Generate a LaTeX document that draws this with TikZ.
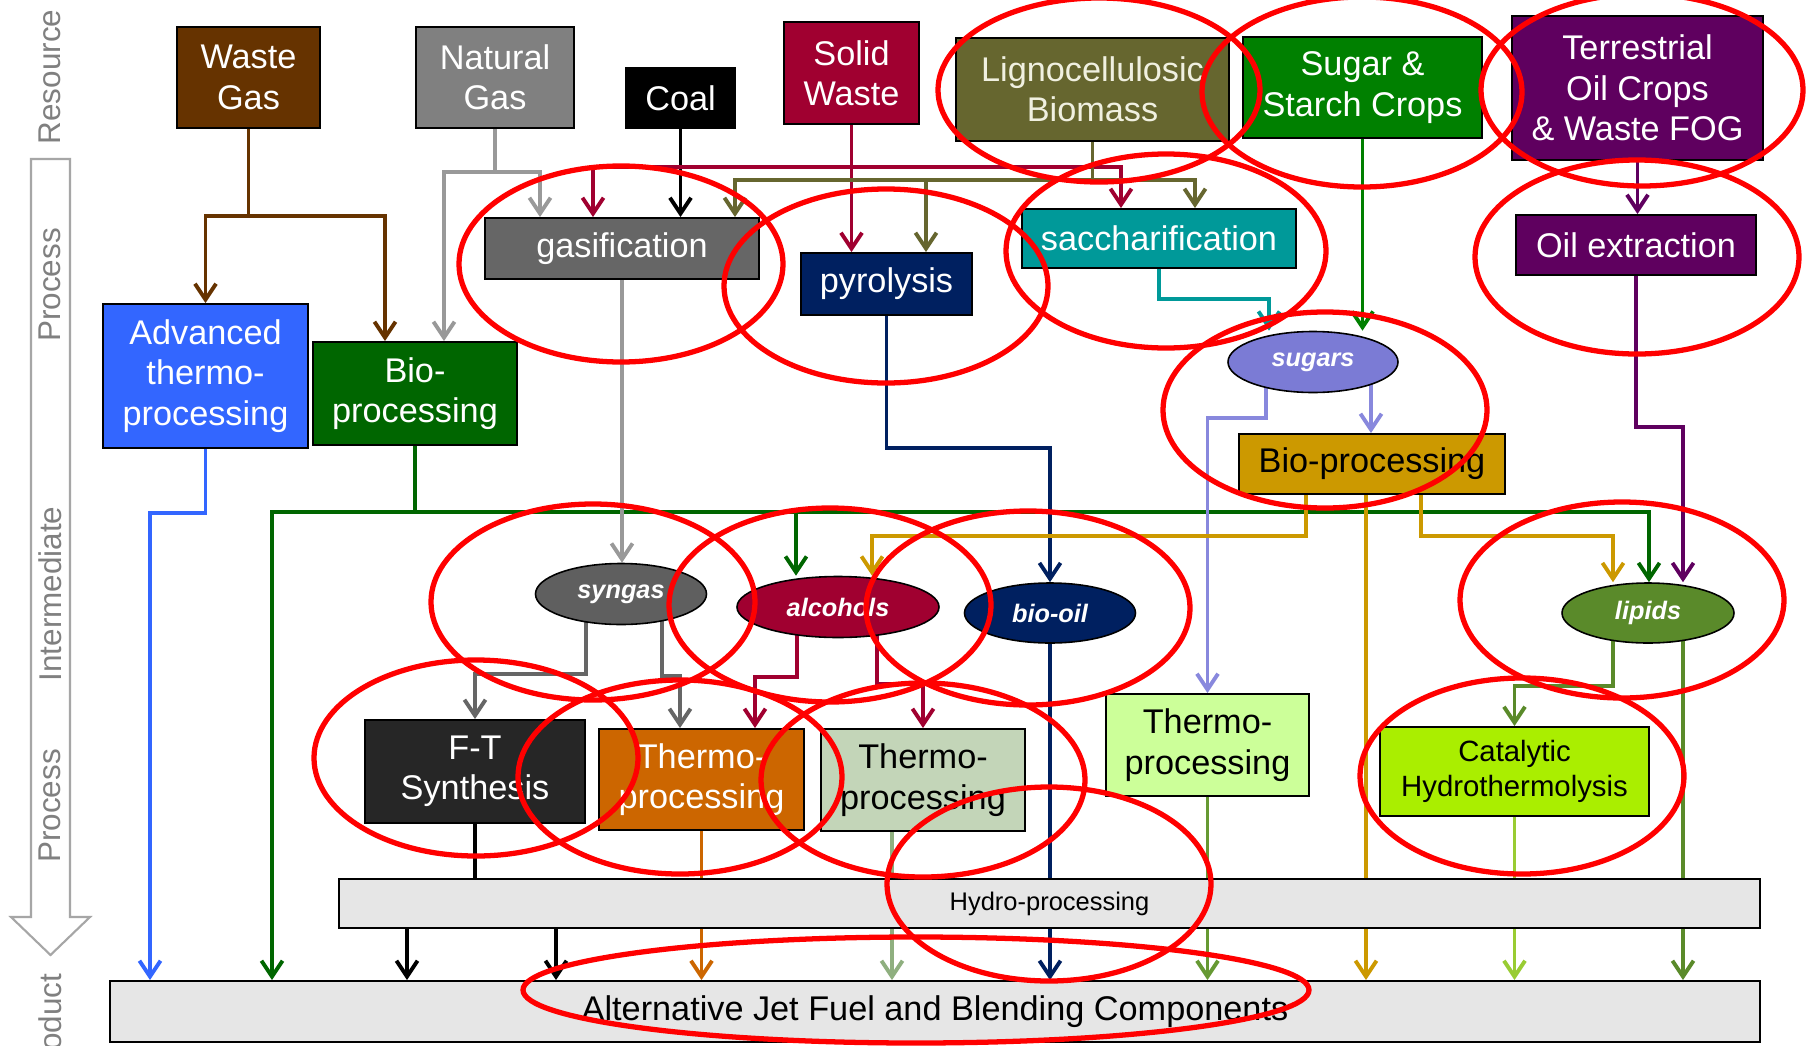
\documentclass[tikz,border=0pt]{standalone}
\usepackage{fontspec}
\setmainfont{Liberation Sans}
\usepackage{tikz}
\usetikzlibrary{arrows.meta,shapes.geometric,backgrounds}
\definecolor{wastegasc}{HTML}{663300}
\definecolor{natgasc}{HTML}{808080}
\definecolor{natline}{HTML}{999999}
\definecolor{solidc}{HTML}{A00030}
\definecolor{lignoc}{HTML}{66662F}
\definecolor{lignotext}{HTML}{F0F0E0}
\definecolor{sugarcropc}{HTML}{008000}
\definecolor{terrc}{HTML}{5F005F}
\definecolor{advc}{HTML}{3366FF}
\definecolor{biogc}{HTML}{006600}
\definecolor{gasifc}{HTML}{666666}
\definecolor{gasline}{HTML}{999999}
\definecolor{pyroc}{HTML}{002060}
\definecolor{saccc}{HTML}{009999}
\definecolor{sugarsc}{HTML}{7B7BD5}
\definecolor{sugarline}{HTML}{8888DD}
\definecolor{bioyc}{HTML}{CC9900}
\definecolor{syngasc}{HTML}{5F5F5F}
\definecolor{synline}{HTML}{666666}
\definecolor{lipidc}{HTML}{5A8A2A}
\definecolor{ftc}{HTML}{262626}
\definecolor{thermoOc}{HTML}{CC6600}
\definecolor{thermoPc}{HTML}{C3D5B8}
\definecolor{thermoPline}{HTML}{8FAF7F}
\definecolor{thermoLc}{HTML}{CCFF99}
\definecolor{thermoLline}{HTML}{669933}
\definecolor{catalc}{HTML}{AAEE00}
\definecolor{catalline}{HTML}{99CC33}
\definecolor{hydroc}{HTML}{E6E6E6}
\definecolor{axisc}{HTML}{A6A6A6}
\definecolor{axistext}{HTML}{808080}
\newcommand\lblfont{\fontsize{19.5}{23}\selectfont}
\newcommand\ovalfont{\fontsize{14.4}{17}\selectfont\bfseries\itshape}
\newcommand\catfont{\fontsize{16.7}{20}\selectfont}
\newcommand\hydrofont{\fontsize{14.5}{17}\selectfont}
\newcommand\axisfont{\fontsize{17.9}{21}\selectfont}

\begin{document}
\begin{tikzpicture}[
  x=0.02cm, y=-0.02cm,
  sz/.style 2 args={minimum width=#1*0.02cm, minimum height=#2*0.02cm},
  box/.style={rectangle, draw=black, line width=1.1pt, align=center, inner sep=0pt, text=white, font=\lblfont},
  oval/.style={ellipse, draw=black, line width=0.9pt, inner sep=0pt, text=white, font=\ovalfont},
  axislbl/.style={rotate=90, inner sep=0pt, text=axistext, font=\axisfont},
  conn/.style={line width=2.2pt},
  arrow/.style={conn, -{Straight Barb[length=9pt,width=12pt]}},
  ring/.style={draw=red, line width=3pt}
]
  \useasboundingbox (0,0) rectangle (1816,1045);

  \draw[draw=axisc, line width=1.2pt] (31,159) -- (70,159) -- (70,917) -- (90,917) -- (50.5,955) -- (11,917) -- (31,917) -- cycle;
  \node[axislbl] (lblres) at (50,77) {Resource};
  \node[axislbl] (lblproc) at (50,285) {Process};
  \node[axislbl] (lblint) at (50,594) {Intermediate};
  \node[axislbl] (lblproc2) at (50,806) {Process};
  \node[axislbl] (lblprod) at (50,1028) {Product};

  \node[box, sz={143}{101}, fill=wastegasc] (wastegas) at (248.5,77.5) {Waste\\Gas};
  \node[box, sz={158}{101}, fill=natgasc] (natgas) at (495,77.5) {Natural\\Gas};
  \node[box, sz={109}{60}, fill=black] (coal) at (680.5,98) {Coal};
  \node[box, sz={135}{102}, fill=solidc] (solidwaste) at (851.5,73) {Solid\\Waste};
  \node[box, sz={273}{103}, fill=lignoc, text=lignotext] (ligno) at (1092.5,89.5) {Lignocellulosic\\Biomass};
  \node[box, sz={239}{101}, fill=sugarcropc] (sugarcrops) at (1362.5,87.5) {Sugar \&\\Starch Crops};
  \node[box, sz={251}{144}, fill=terrc] (terrestrial) at (1637.5,88) {Terrestrial\\Oil Crops\\\& Waste FOG};

  \node[box, sz={205}{144}, fill=advc] (advthermo) at (205.5,376) {Advanced\\thermo-\\processing};
  \node[box, sz={204}{103}, fill=biogc] (bioproc) at (415,393.5) {Bio-\\processing};
  \node[box, sz={274}{61}, fill=gasifc] (gasif) at (622,248.5) {gasification};
  \node[box, sz={171}{62}, fill=pyroc] (pyro) at (886.5,284) {pyrolysis};
  \node[box, sz={274}{59}, fill=saccc] (sacch) at (1159,238.5) {saccharification};
  \node[box, sz={240}{60}, fill=terrc] (oilext) at (1636,245) {Oil extraction};
  \node[oval, sz={170}{61}, fill=sugarsc] (sugars) at (1313,362) {sugars};
  \node[box, sz={266}{60}, fill=bioyc, text=black] (bioprocY) at (1372,464) {Bio-processing};

  \node[oval, sz={171}{61}, fill=syngasc] (syngas) at (621,594) {syngas};
  \node[oval, sz={202}{61}, fill=solidc] (alcohols) at (838,607) {alcohols};
  \node[oval, sz={171}{60}, fill=pyroc] (biooil) at (1050,613) {bio-oil};
  \node[oval, sz={172}{60}, fill=lipidc] (lipids) at (1648,613) {lipids};

  \node[box, sz={220}{103}, fill=ftc] (ftsyn) at (475,771.5) {F-T\\Synthesis};
  \node[box, sz={205}{101}, fill=thermoOc] (thermoO) at (701.5,779.5) {Thermo-\\processing};
  \node[box, sz={204}{102}, fill=thermoPc, text=black] (thermoP) at (923,780) {Thermo-\\processing};
  \node[box, sz={203}{102}, fill=thermoLc, text=black] (thermoL) at (1207.5,745) {Thermo-\\processing};
  \node[box, sz={269}{89}, fill=catalc, text=black, font=\catfont] (catalytic) at (1514.5,771.5) {Catalytic\\Hydrothermolysis};

  \node[box, sz={1421}{49}, fill=hydroc, text=black, font=\hydrofont] (hydro) at (1049.5,903.5) {Hydro-processing};
  \node[box, sz={1650}{61}, fill=hydroc, text=black] (product) at (935,1011.5) {Alternative Jet Fuel and Blending Components};

  \begin{scope}[on background layer]
    \fill[white] (0,0) rectangle (1816,1045);

    \coordinate (wgsplit) at (wastegas.south |- 0,216);
    \draw[conn, wastegasc] (wastegas.south) -- (wgsplit);
    \draw[arrow, wastegasc] (wgsplit) -| (advthermo.north);
    \draw[arrow, wastegasc] (wgsplit) -| (385,0 |- bioproc.north);

    \coordinate (ngsplit) at (natgas.south |- 0,172);
    \draw[conn, natline] (natgas.south) -- (ngsplit);
    \draw[arrow, natline] (ngsplit) -| (444,0 |- bioproc.north);
    \draw[arrow, natline] (ngsplit) -| (540,0 |- gasif.north);

    \draw[arrow, black] (coal.south) -- (coal.south |- gasif.north);

    \coordinate (swsplit) at (solidwaste.south |- 0,167);
    \draw[arrow, solidc] (solidwaste.south) -- (solidwaste.south |- pyro.north);
    \draw[arrow, solidc] (swsplit) -| (593,0 |- gasif.north);
    \draw[arrow, solidc] (swsplit) -| (1121,0 |- sacch.north);

    \coordinate (lgsplit) at (ligno.south |- 0,180);
    \draw[conn, lignoc] (ligno.south) -- (lgsplit);
    \draw[arrow, lignoc] (lgsplit) -| (735,0 |- gasif.north);
    \draw[arrow, lignoc] (lgsplit) -| (1195,0 |- sacch.north);
    \draw[arrow, lignoc] (926,0 |- lgsplit) -- (926,0 |- pyro.north);

    \draw[arrow, sugarcropc] (sugarcrops.south) -- (sugarcrops.south |- sugars.north);
    \draw[arrow, terrc] (terrestrial.south) -- (terrestrial.south |- oilext.north);
    \draw[arrow, terrc] (oilext.south) -- (oilext.south |- 0,427) -| (1683,0 |- lipids.north);
    \draw[arrow, saccc] (sacch.south) -- (sacch.south |- 0,299) -| (1269,0 |- sugars.north);

    \draw[arrow, advc] (advthermo.south) -- (advthermo.south |- 0,513) -| (150,0 |- product.north);

    \coordinate (bgsplit) at (bioproc.south |- 0,512);
    \draw[conn, biogc] (bioproc.south) -- (bgsplit);
    \draw[arrow, biogc] (bgsplit) -| (272,0 |- product.north);
    \draw[arrow, biogc] (bgsplit) -| (1649,0 |- lipids.north);
    \draw[arrow, biogc] (796,0 |- bgsplit) -- (796,0 |- alcohols.north);

    \draw[arrow, gasline] (gasif.south) -- (gasif.south |- syngas.north);
    \draw[arrow, pyroc] (pyro.south) -- (pyro.south |- 0,448) -| (biooil.north);

    \draw[arrow, sugarline] (1266,0 |- sugars.center) -- (1266,418) -| (thermoL.north);
    \draw[arrow, sugarline] (1371,0 |- sugars.center) -- (1371,0 |- bioprocY.north);

    \draw[arrow, bioyc] (1306,0 |- bioprocY.center) -- (1306,536) -| (872,0 |- alcohols.north);
    \draw[conn, bioyc] (1366,0 |- bioprocY.center) -- (1366,0 |- hydro.north);
    \draw[arrow, bioyc] (1421,0 |- bioprocY.center) -- (1421,536) -| (1613,0 |- lipids.north);

    \draw[arrow, synline] (586,0 |- syngas.center) -- (586,674) -| (ftsyn.north);
    \draw[arrow, synline] (662,0 |- syngas.center) -- (662,676) -| (680,0 |- thermoO.north);
    \draw[arrow, solidc] (797,0 |- alcohols.center) -- (797,677) -| (755,0 |- thermoO.north);
    \draw[arrow, solidc] (877,0 |- alcohols.center) -- (877,684) -| (thermoP.north);

    \draw[conn, pyroc] (biooil.center) -- (biooil.center |- hydro.north);
    \draw[conn, lipidc] (1683,0 |- lipids.center) -- (1683,0 |- hydro.north);
    \draw[arrow, lipidc] (1613,0 |- lipids.center) -- (1613,686) -| (catalytic.north);

    \draw[conn, black] (ftsyn.south) -- (ftsyn.south |- hydro.north);
    \draw[conn, thermoOc] (thermoO.south) -- (thermoO.south |- hydro.north);
    \draw[conn, thermoPline] (892,0 |- thermoP.south) -- (892,0 |- hydro.north);
    \draw[conn, thermoLline] (thermoL.south) -- (thermoL.south |- hydro.north);
    \draw[conn, catalline] (catalytic.south) -- (catalytic.south |- hydro.north);

    \draw[arrow, black] (407,0 |- hydro.south) -- (407,0 |- product.north);
    \draw[arrow, black] (556,0 |- hydro.south) -- (556,0 |- product.north);
    \draw[arrow, thermoOc] (thermoO.south |- hydro.south) -- (thermoO.south |- product.north);
    \draw[arrow, thermoPline] (892,0 |- hydro.south) -- (892,0 |- product.north);
    \draw[arrow, pyroc] (biooil.center |- hydro.south) -- (biooil.center |- product.north);
    \draw[arrow, thermoLline] (thermoL.south |- hydro.south) -- (thermoL.south |- product.north);
    \draw[arrow, bioyc] (1366,0 |- hydro.south) -- (1366,0 |- product.north);
    \draw[arrow, catalline] (catalytic.south |- hydro.south) -- (catalytic.south |- product.north);
    \draw[arrow, lipidc] (1683,0 |- hydro.south) -- (1683,0 |- product.north);
  \end{scope}

  \draw[ring] (1099,90) ellipse [x radius=161, y radius=92];
  \draw[ring] (1362,92) ellipse [x radius=160, y radius=95];
  \draw[ring] (1642,90) ellipse [x radius=161, y radius=96];
  \draw[ring] (1637,257) ellipse [x radius=162, y radius=97];
  \draw[ring] (621,264) ellipse [x radius=162, y radius=98];
  \draw[ring] (886,286) ellipse [x radius=162, y radius=97];
  \draw[ring] (1166,251) ellipse [x radius=160, y radius=97];
  \draw[ring] (1325,410) ellipse [x radius=162, y radius=98];
  \draw[ring] (593,602) ellipse [x radius=162, y radius=98];
  \draw[ring] (830,605) ellipse [x radius=161, y radius=97];
  \draw[ring] (1028,608) ellipse [x radius=162, y radius=97];
  \draw[ring] (1622,600) ellipse [x radius=162, y radius=98];
  \draw[ring] (476,758) ellipse [x radius=162, y radius=98];
  \draw[ring] (680,777) ellipse [x radius=162, y radius=97];
  \draw[ring] (923,780) ellipse [x radius=162, y radius=97];
  \draw[ring] (1049,884) ellipse [x radius=162, y radius=97];
  \draw[ring] (1522,776) ellipse [x radius=162, y radius=98];
  \draw[ring] (916,990) ellipse [x radius=393, y radius=53];
\end{tikzpicture}
\end{document}
